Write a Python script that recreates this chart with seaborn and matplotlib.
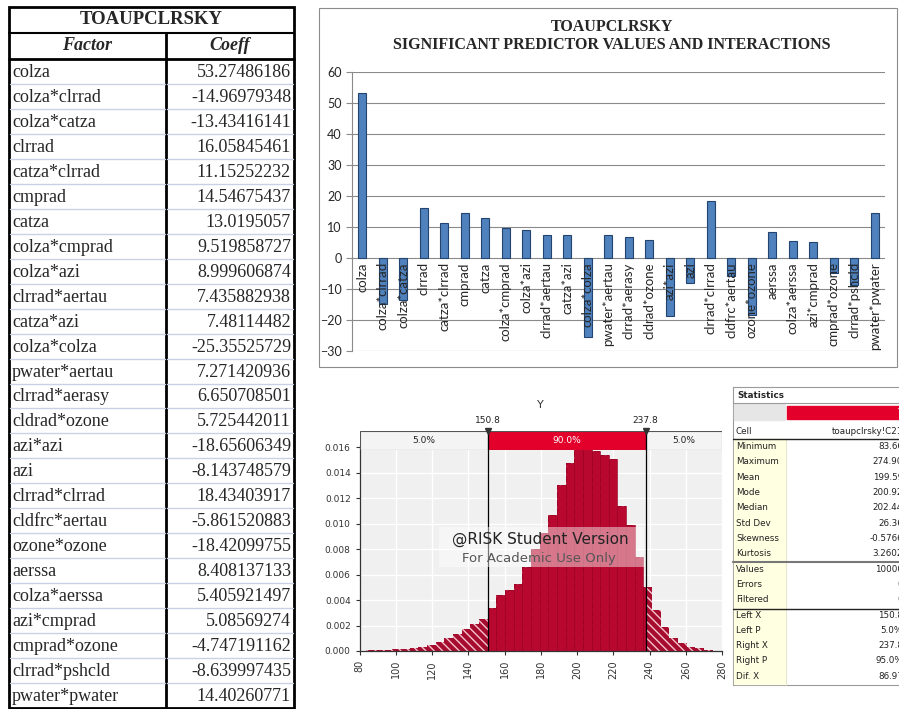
import numpy as np
import pandas as pd
import matplotlib
matplotlib.use("Agg")
import matplotlib.pyplot as plt
import seaborn as sns
from matplotlib.patches import Rectangle

# regression coefficients (table + bar chart)
factors = ["colza", "colza*clrrad", "colza*catza", "clrrad", "catza*clrrad",
           "cmprad", "catza", "colza*cmprad", "colza*azi", "clrrad*aertau",
           "catza*azi", "colza*colza", "pwater*aertau", "clrrad*aerasy",
           "cldrad*ozone", "azi*azi", "azi", "clrrad*clrrad", "cldfrc*aertau",
           "ozone*ozone", "aerssa", "colza*aerssa", "azi*cmprad",
           "cmprad*ozone", "clrrad*pshcld", "pwater*pwater"]
coeffs = [53.27486186, -14.96979348, -13.43416141, 16.05845461, 11.15252232,
          14.54675437, 13.0195057, 9.519858727, 8.999606874, 7.435882938,
          7.48114482, -25.35525729, 7.271420936, 6.650708501, 5.725442011,
          -18.65606349, -8.143748579, 18.43403917, -5.861520883, -18.42099755,
          8.408137133, 5.405921497, 5.08569274, -4.747191162, -8.639997435,
          14.40260771]

# @RISK output distribution (density per bin, 40 bins from min to max)
stat_min, stat_max, n_bins = 83.66, 274.90, 40
density = [0.00004, 0.00006, 0.0001, 0.00012, 0.00015, 0.0002, 0.0003,
           0.00045, 0.0007, 0.0010, 0.0013, 0.0017, 0.0021, 0.0025,
           0.0034, 0.0044, 0.0048, 0.0053, 0.0066, 0.0080, 0.0093,
           0.0107, 0.0130, 0.0148, 0.0160, 0.0159, 0.0157, 0.0154, 0.0151,
           0.0114, 0.0099, 0.0074, 0.0050, 0.0032, 0.0019, 0.0010, 0.0006,
           0.0003, 0.0002, 0.0001]
left_x, right_x = 150.8, 237.8
band_labels = ["5.0%", "90.0%", "5.0%"]

stat_labels = ["Cell", "Minimum", "Maximum", "Mean", "Mode", "Median",
               "Std Dev", "Skewness", "Kurtosis", "Values", "Errors",
               "Filtered", "Left X", "Left P", "Right X", "Right P", "Dif. X"]
stat_values = ["toaupclrsky!C21", "83.66", "274.90", "199.59", "200.92",
               "202.44", "26.36", "-0.5766", "3.2602", "10000", "0", "0",
               "150.8", "5.0%", "237.8", "95.0%", "86.97"]

W, H = 899, 709
sns.set_style("white")
plt.rcParams["font.family"] = ["DejaVu Sans"]
SERIF = "Liberation Serif"


def box(x0, y0, x1, y1):
    return [x0 / W, 1 - y1 / H, (x1 - x0) / W, (y1 - y0) / H]


fig = plt.figure(figsize=(W / 100, H / 100), dpi=100)
bg = fig.add_axes([0, 0, 1, 1])
bg.set_xlim(0, W)
bg.set_ylim(H, 0)
bg.axis("off")

# ---- left table ----
tx0, txm, tx1 = 9, 166, 294
row_top, row_h = 59, (708 - 59) / len(factors)
bg.add_patch(Rectangle((tx0, 7), tx1 - tx0, 701, fill=False, lw=2, ec="black"))
bg.plot([tx0, tx1], [33, 33], color="black", lw=1.5)
bg.plot([tx0, tx1], [row_top, row_top], color="black", lw=2)
bg.plot([txm, txm], [33, 708], color="black", lw=2)
bg.text((tx0 + tx1) / 2, 20, "TOAUPCLRSKY", family=SERIF, weight="bold",
        size=13.5, ha="center", va="center")
bg.text((tx0 + txm) / 2, 46, "Factor", family=SERIF, weight="bold",
        style="italic", size=13, ha="center", va="center")
bg.text((txm + tx1) / 2, 46, "Coeff", family=SERIF, weight="bold",
        style="italic", size=13, ha="center", va="center")
for i, (f, c) in enumerate(zip(factors, coeffs)):
    yc = row_top + (i + 0.5) * row_h
    if i > 0:
        y = row_top + i * row_h
        bg.plot([tx0 + 1, txm - 1], [y, y], color="#c9d2e3", lw=1)
        bg.plot([txm + 1, tx1 - 1], [y, y], color="#c9d2e3", lw=1)
    bg.text(tx0 + 3, yc + 1, f, family=SERIF, size=13, ha="left", va="center")
    bg.text(tx1 - 3, yc + 1, f"{c:.10g}", family=SERIF, size=13,
            ha="right", va="center")

# ---- bar chart ----
bg.add_patch(Rectangle((319, 8), 578, 359, fill=False, lw=0.8, ec="#8c8c8c"))
bg.text(612, 27, "TOAUPCLRSKY", family=SERIF, weight="bold", size=11.5,
        ha="center", va="center")
bg.text(612, 45, "SIGNIFICANT PREDICTOR VALUES AND INTERACTIONS", family=SERIF,
        weight="bold", size=11.5, ha="center", va="center")

ax1 = fig.add_axes(box(352, 72, 885, 351))
sns.barplot(x=factors, y=coeffs, color="#4f81bd", width=0.4, errorbar=None,
            edgecolor="#22446e", linewidth=0.8, saturation=1, ax=ax1)
ax1.set_ylim(-30, 60)
ax1.set_yticks(range(-30, 61, 10))
ax1.yaxis.grid(True, color="#8a8a8a", lw=0.8)
ax1.set_axisbelow(True)
for s in ["top", "right", "bottom"]:
    ax1.spines[s].set_visible(False)
ax1.spines["left"].set_color("#8a8a8a")
ax1.set_xticks([])
ax1.tick_params(axis="y", length=4, color="#8a8a8a", labelsize=9, left=True)
for lab in ax1.get_yticklabels():
    lab.set_family("Lato")
for i, f in enumerate(factors):
    ax1.annotate(f, (i, 0), xytext=(0, -3), textcoords="offset points",
                 rotation=90, ha="center", va="top", family="Lato", size=9.5,
                 zorder=5)

# ---- histogram ----
edges = np.linspace(stat_min, stat_max, n_bins + 1)
hist_df = pd.DataFrame({"y": (edges[:-1] + edges[1:]) / 2, "dens": density})
ax2 = fig.add_axes(box(359.7, 446, 722, 651))
ax2.set_facecolor("#f0f0f0")
sns.histplot(data=hist_df, x="y", weights="dens", bins=list(edges), ax=ax2)
n_tail = len(ax2.patches)
for p in ax2.patches:
    p.set_facecolor("#a60c2d")
    p.set_edgecolor("#f6c2cf")
    p.set_linewidth(0)
    p.set_hatch("\\\\\\\\")
    p.set_alpha(1)
sns.histplot(data=hist_df, x="y", weights="dens", bins=list(edges), ax=ax2)
clip = Rectangle((left_x, 0), right_x - left_x, 1, transform=ax2.transData)
for p in ax2.patches[n_tail:]:
    p.set_facecolor("#b8082f")
    p.set_edgecolor("#960022")
    p.set_linewidth(0.4)
    p.set_alpha(1)
    p.set_clip_path(clip)
ax2.set_xlim(80, 280)
ax2.set_ylim(0, 0.0161)
ax2.set_xticks(range(80, 281, 20))
ax2.set_yticks(np.arange(0, 0.0161, 0.002))
ax2.set_yticklabels([f"{v:.3f}" for v in np.arange(0, 0.0161, 0.002)])
ax2.set_xticklabels([str(v) for v in range(80, 281, 20)], rotation=90)
ax2.grid(True, color="white", lw=1)
ax2.set_axisbelow(True)
ax2.set_xlabel("")
ax2.set_ylabel("")
for s in ["top", "right"]:
    ax2.spines[s].set_visible(False)
for s in ["left", "bottom"]:
    ax2.spines[s].set_color("#333333")
    ax2.spines[s].set_linewidth(0.9)
ax2.tick_params(length=3, labelsize=6.5, colors="#333333", left=True,
                bottom=True)
ax2.tick_params(axis="x", labelsize=7)
ax2.axvline(left_x, color="black", lw=0.9, zorder=4)
ax2.axvline(right_x, color="black", lw=0.9, zorder=4)
ax2.add_patch(Rectangle((124, 0.0066), 113, 0.0031, facecolor="white",
                        alpha=0.45, lw=0, zorder=5))
ax2.text(179.7, 0.00877, "@RISK Student Version", size=11, color="#222222",
         ha="center", va="center", zorder=6)
ax2.text(179.2, 0.00727, "For Academic Use Only", size=9.5, color="#555555",
         ha="center", va="center", zorder=6)

# percentile band above the histogram
axb = fig.add_axes(box(359.7, 431, 722, 450))
axb.set_xlim(80, 280)
axb.set_ylim(0, 1)
axb.axis("off")
segs = [(80, left_x, "#f4f4f4"), (left_x, right_x, "#e3002b"),
        (right_x, 280, "#f4f4f4")]
for (a, b, col), lab in zip(segs, band_labels):
    axb.add_patch(Rectangle((a, 0), b - a, 1, facecolor=col,
                            edgecolor="#555555", lw=0.8))
    axb.text((a + b) / 2, 0.5, lab, size=6.5, ha="center", va="center",
             color="white" if col == "#e3002b" else "#222222")
for xv in (left_x, right_x):
    axb.plot([xv, xv], [0, 1], color="black", lw=0.9)
    axb.plot([xv], [1], marker="v", color="#333333", markersize=5,
             clip_on=False)
    axb.annotate(f"{xv:.1f}", (xv, 1), xytext=(0, 4),
                 textcoords="offset points", ha="center", va="bottom",
                 size=6.5, color="#222222")
bg.text(540, 405, "Y", size=8, ha="center", va="center", color="#333333")

# ---- statistics panel ----
sx0, sxm, sx1 = 733, 786, 905
bg.add_patch(Rectangle((sx0, 387), sx1 - sx0, 298, fill=False,
                       ec="#9a9a9a", lw=0.8))
bg.text(sx0 + 4, 395, "Statistics", size=6.3, weight="bold", va="center")
bg.plot([sx0, sx1], [403, 403], color="#9a9a9a", lw=0.8)
bg.add_patch(Rectangle((sx0 + 1, 404), sxm - sx0 - 2, 16, color="#e6e6e6"))
bg.add_patch(Rectangle((sxm + 1, 406), sx1 - sxm, 13, color="#e3002b"))
bg.text(903, 412.5, "Y", size=6.3, color="white", ha="right", va="center")
bg.add_patch(Rectangle((sx0 + 1, 439), sxm - sx0 - 1, 245, color="#ffffe2"))
bg.plot([sxm, sxm], [439, 685], color="#e2e2c8", lw=0.6)
row_y = [431] + [446.7 + 15.3 * k for k in range(len(stat_labels) - 1)]
for lab, val, y in zip(stat_labels, stat_values, row_y):
    bg.text(sx0 + 3, y, lab, size=6.3, color="#222222", va="center")
    bg.text(903, y, val, size=6.3, color="#222222", ha="right", va="center")
bg.plot([sx0, sx1], [438.7, 438.7], color="#222222", lw=1)
bg.plot([sx0, sx1], [562, 562], color="#777777", lw=1.5)
bg.plot([sx0, sx1], [608.5, 608.5], color="#222222", lw=1)

fig.savefig("out.png", dpi=100)
